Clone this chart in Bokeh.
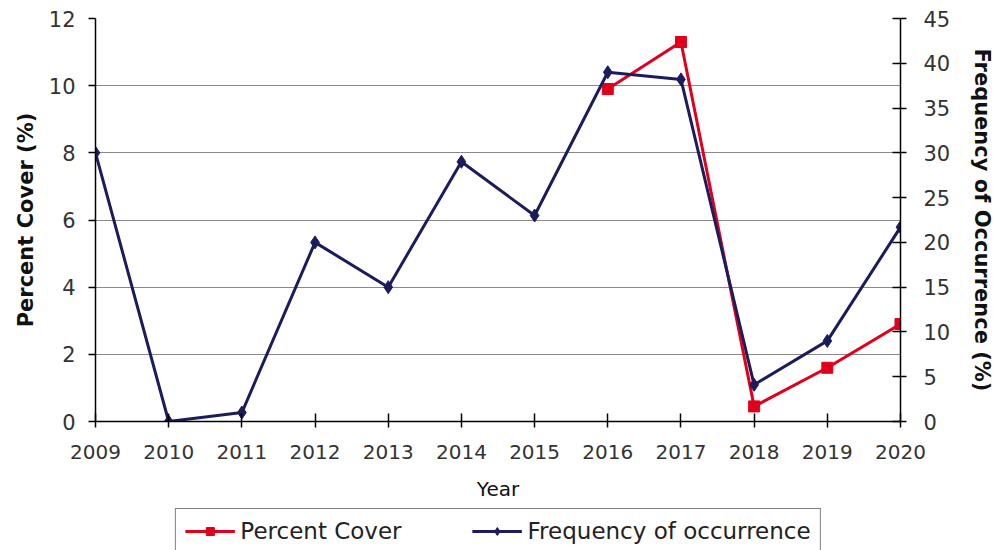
from bokeh.plotting import figure
from bokeh.layouts import column
from bokeh.models import LinearAxis, Range1d, FixedTicker, Legend, LegendItem
from bokeh.embed import file_html
from bokeh.resources import INLINE

years = [2009, 2010, 2011, 2012, 2013, 2014, 2015, 2016, 2017, 2018, 2019, 2020]
freq_occurrence = [30, 0, 1, 20, 15, 29, 23, 39, 38.2, 4.1, 9, 21.7]
cover_years = [2016, 2017, 2018, 2019, 2020]
percent_cover = [9.9, 11.3, 0.45, 1.6, 2.9]
left_ticks = [0, 2, 4, 6, 8, 10, 12]
right_ticks = [0, 5, 10, 15, 20, 25, 30, 35, 40, 45]
series_names = ["Percent Cover", "Frequency of occurrence"]

FONT = "DejaVu Sans"
RED = "#E0001B"
NAVY = "#1C1C5C"

p = figure(width=997, height=508, output_backend="svg", toolbar_location=None,
           x_range=Range1d(2009, 2020), y_range=Range1d(0, 12),
           min_border_left=95, min_border_right=96, min_border_top=18, min_border_bottom=87,
           background_fill_color="white", border_fill_color="white", outline_line_color=None)
p.extra_y_ranges = {"freq": Range1d(0, 45)}

# grid
p.xgrid.grid_line_color = None
p.ygrid.grid_line_color = "#8a8a8a"
p.ygrid.grid_line_width = 1.2
p.ygrid.ticker = FixedTicker(ticks=left_ticks)

def style_axis(ax):
    ax.axis_line_color = "black"
    ax.axis_line_width = 1.5
    ax.major_tick_line_color = "black"
    ax.major_tick_line_width = 1.5
    ax.minor_tick_line_color = None
    ax.major_label_text_font = FONT
    ax.major_label_text_font_size = "21px"
    ax.major_label_text_color = "#333333"
    ax.axis_label_text_font = FONT
    ax.axis_label_text_font_style = "bold"
    ax.axis_label_text_font_size = "21px"
    ax.axis_label_text_color = "#111111"

xa = p.xaxis[0]
style_axis(xa)
xa.ticker = FixedTicker(ticks=years)
xa.major_label_text_font_size = "20px"
xa.major_tick_in = 8
xa.major_tick_out = 6
xa.major_label_standoff = 17
xa.axis_label = "Year"
xa.axis_label_text_font_style = "normal"
xa.axis_label_text_font_size = "20px"
xa.axis_label_standoff = 15

ya = p.yaxis[0]
style_axis(ya)
ya.ticker = FixedTicker(ticks=left_ticks)
ya.major_tick_in = 0
ya.major_tick_out = 7
ya.major_label_standoff = 13
ya.axis_label = "Percent Cover (%)"
ya.axis_label_standoff = 8

ra = LinearAxis(y_range_name="freq")
style_axis(ra)
ra.ticker = FixedTicker(ticks=right_ticks)
ra.major_tick_in = 8
ra.major_tick_out = 6
ra.major_label_standoff = 17
ra.axis_label = "Frequency of Occurrence (%)"
ra.axis_label_standoff = 17
p.add_layout(ra, "right")

# series
p.line(cover_years, percent_cover, line_color=RED, line_width=3)
p.scatter(cover_years, percent_cover, marker="square", size=11, fill_color=RED, line_color=RED)
p.line(years, freq_occurrence, line_color=NAVY, line_width=3, y_range_name="freq")
p.scatter(years, freq_occurrence, marker="diamond", size=13, fill_color=NAVY, line_color=NAVY,
          y_range_name="freq")

# legend strip (its renderers sit outside the strip's visible ranges; only the legend shows)
q = figure(width=997, height=42, output_backend="svg", toolbar_location=None,
           x_range=Range1d(0, 1), y_range=Range1d(0, 1),
           x_axis_location=None, y_axis_location=None,
           min_border_left=0, min_border_right=0, min_border_top=0, min_border_bottom=0,
           background_fill_color="white", border_fill_color="white", outline_line_color=None)
q.grid.visible = False
lr1 = q.line(cover_years, percent_cover, line_color=RED, line_width=3)
lm1 = q.scatter(cover_years, percent_cover, marker="square", size=13, fill_color=RED, line_color=RED)
lr2 = q.line(years, freq_occurrence, line_color=NAVY, line_width=3)
lm2 = q.scatter(years, freq_occurrence, marker="diamond", size=15, fill_color=NAVY, line_color=NAVY)

legend = Legend(items=[LegendItem(label=series_names[0], renderers=[lr1, lm1]),
                       LegendItem(label=series_names[1], renderers=[lr2, lm2])],
                orientation="horizontal", location="top_center",
                label_text_font=FONT, label_text_font_size="23px", label_text_color="#222222",
                glyph_width=50, glyph_height=20, label_standoff=6, spacing=70, padding=9, margin=0,
                border_line_color="black", border_line_width=1.5,
                background_fill_color="white")
q.add_layout(legend, "center")

layout = column(p, q, spacing=0)
open("out.html", "w").write(file_html(layout, INLINE))
